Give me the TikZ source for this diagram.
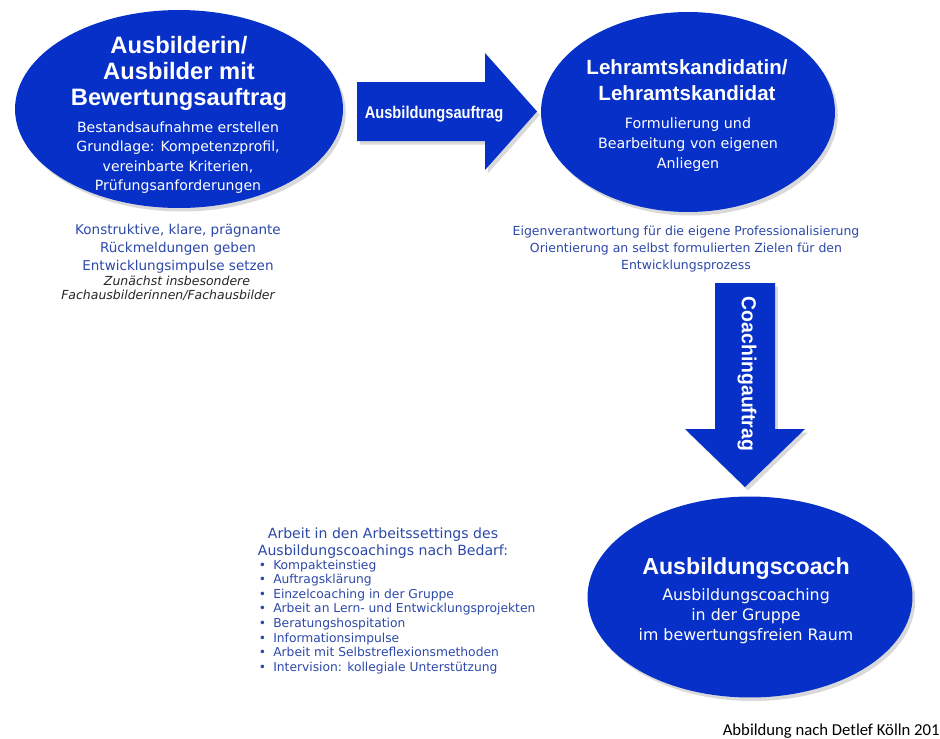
\documentclass[tikz,border=0pt]{standalone}
\usepackage{fontspec}
\setmainfont{DejaVu Sans}
\newfontfamily\headfont{Liberation Sans}
\newfontfamily\notefont{Carlito}
\usetikzlibrary{positioning, shapes.geometric, shadows}
\definecolor{bubbleblue}{RGB}{6,48,200}
\definecolor{textblue}{RGB}{44,72,168}

\begin{document}
\begin{tikzpicture}[x=0.02cm, y=-0.02cm,
    shade/.style={drop shadow={shadow xshift=1.6pt, shadow yshift=-2pt, opacity=0.3}},
    bubble/.style={ellipse, fill=bubbleblue, inner sep=0pt, shade},
    blockarrow/.style={fill=bubbleblue, shade},
    head/.style={text=white, align=center, inner sep=0pt, anchor=base},
    body/.style={text=white, align=center, inner sep=0pt, anchor=base},
    note/.style={text=textblue, align=center, inner sep=0pt, anchor=base},
    listitem/.style={text=textblue, inner sep=0pt, anchor=base west,
        font=\fontsize{7}{8}\selectfont}]
    \useasboundingbox (0,0) rectangle (940,738);

    % Ellipsen
    \node[bubble, minimum width=6.56cm, minimum height=3.96cm] (bewertung) at (179,109) {};
    \node[bubble, minimum width=5.88cm, minimum height=4cm] (kandidat) at (688,112) {};
    \node[bubble, minimum width=6.5cm, minimum height=4.02cm] (coach) at (750,597) {};

    % Blockpfeile
    \fill[blockarrow] (357,82) -- (485,82) -- (485,53) -- (537,111.5)
        -- (485,170) -- (485,141) -- (357,141) -- cycle;
    \fill[blockarrow] (715,283) -- (775,283) -- (775,429) -- (805,429)
        -- (745,487) -- (685,429) -- (715,429) -- cycle;
    \node[head, font=\headfont\bfseries\fontsize{9.7}{11}\selectfont] (ausbildungsauftrag)
        at (434,118) {\scalebox{0.86}[1]{Ausbildungsauftrag}};
    \node[text=white, inner sep=0pt, rotate=-90, font=\headfont\bfseries\fontsize{11.5}{13}\selectfont]
        (coachingauftrag) at (747,374) {\scalebox{0.96}[1]{Coachingauftrag}};

    % Texte in den Ellipsen (base = letzte Zeile)
    \node[head, font=\headfont\bfseries\fontsize{13.5}{14.7}\selectfont] (bewertungtitel)
        at (179,105) {Ausbilderin/\\Ausbilder mit\\Bewertungsauftrag};
    \node[body, font=\fontsize{8}{11.05}\selectfont] (bewertungtext) at (178,190.5)
        {Bestandsaufnahme erstellen\\Grundlage: Kompetenzprofil,\\vereinbarte Kriterien,\\Prüfungsanforderungen};
    \node[head, font=\headfont\bfseries\fontsize{11.7}{14.7}\selectfont] (kandidattitel)
        at (687,100) {Lehramtskandidatin/\\Lehramtskandidat};
    \node[body, font=\fontsize{8.1}{11.3}\selectfont] (kandidattext) at (688,168)
        {Formulierung und\\Bearbeitung von eigenen\\Anliegen};
    \node[head, font=\headfont\bfseries\fontsize{13.2}{14.7}\selectfont] (coachtitel)
        at (746,574) {Ausbildungscoach};
    \node[body, font=\fontsize{9}{11.3}\selectfont] (coachtext) at (746,640)
        {Ausbildungscoaching\\in der Gruppe\\im bewertungsfreien Raum};

    % Texte unter den Ellipsen
    \node[note, font=\fontsize{7.7}{10.2}\selectfont] (rueckmeldung) at (178,270)
        {Konstruktive, klare, prägnante\\Rückmeldungen geben\\Entwicklungsimpulse setzen};
    \node[note, text=black!85, font=\itshape\fontsize{7.1}{8.3}\selectfont] (zunaechst) at (177,285)
        {Zunächst insbesondere};
    \node[note, text=black!85, font=\itshape\fontsize{7.1}{8.3}\selectfont] (fachausbilder) at (168,299.5)
        {Fachausbilderinnen/Fachausbilder};
    \node[note, font=\fontsize{7.1}{9.6}\selectfont] (verantwortung) at (686,269)
        {Eigenverantwortung für die eigene Professionalisierung\\Orientierung an selbst formulierten Zielen für den\\Entwicklungsprozess};

    % Arbeitssettings
    \node[note, font=\fontsize{8}{9.6}\selectfont] (settings) at (383,555)
        {Arbeit in den Arbeitssettings des\\Ausbildungscoachings nach Bedarf:};
    \foreach \txt [count=\k] in {Kompakteinstieg, Auftragsklärung, Einzelcoaching in der Gruppe,
        Arbeit an Lern- und Entwicklungsprojekten, Beratungshospitation, Informationsimpulse,
        Arbeit mit Selbstreflexionsmethoden, Intervision: kollegiale Unterstützung}
        \node[listitem] (item\k) at (258.5,{569+14.6*(\k-1)}) {\makebox[8.2pt][l]{\textbullet}\txt};

    \node[anchor=base east, inner sep=0pt, font=\notefont\fontsize{9.5}{11}\selectfont] (quelle)
        at (940,735) {Abbildung nach Detlef Kölln 201};
\end{tikzpicture}
\end{document}
